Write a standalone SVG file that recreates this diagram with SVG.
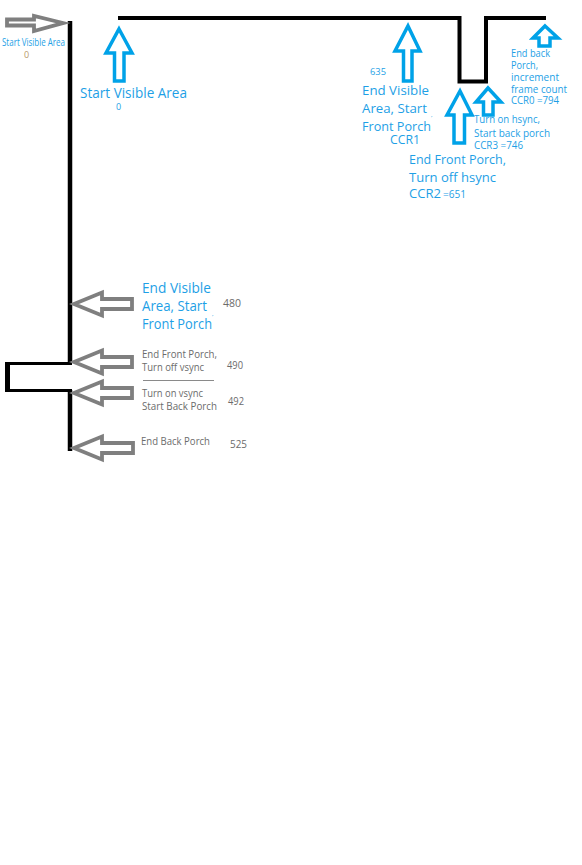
<svg xmlns="http://www.w3.org/2000/svg" width="582" height="865" viewBox="0 0 582 865">
<style>
.bg{fill:#fff}
.ln{stroke:#000;fill:none;stroke-linecap:butt}
.ga{fill:none;stroke:#7f7f7f;stroke-width:3.8;stroke-linejoin:miter}
.ba{fill:none;stroke:#00a2e8;stroke-width:3.5;stroke-linejoin:miter}
.bt{fill:#1e9fe6;font-family:"Open Sans","Liberation Sans",sans-serif}
.gt{fill:#6b6b6b;font-family:"Open Sans","Liberation Sans",sans-serif}
.ot{fill:#b8996b;font-family:"Open Sans","Liberation Sans",sans-serif}
</style>
<rect class="bg" x="0" y="0" width="582" height="865"/>
<g id="connectors">
  <path class="ln" stroke-width="4.5" d="M70,21 V363"/>
  <path class="ln" stroke-width="4.5" d="M70,390 V451"/>
  <path class="ln" stroke-width="3" d="M72,363.5 H7.5 M72,390.5 H7.5"/>
  <path class="ln" stroke-width="5" d="M7.5,362 V392"/>
  <path class="ln" stroke-width="4" d="M118,18 H459.5 V81.5 H486 V18 H546"/>
</g>
<g id="node-start-left">
  <polygon class="ga" points="7,19.5 34,19.5 34,16 63,23 34,31 34,25.5 7,25.5"/>
  <text class="bt" x="2" y="46" font-size="11" textLength="63" lengthAdjust="spacingAndGlyphs">Start Visible Area</text>
  <text class="ot" x="24" y="58" font-size="9">0</text>
</g>
<g id="node-start-top">
  <polygon class="ba" points="119,29 132,53 124,53 124,81 114.5,81 114.5,53 106,53"/>
  <text class="bt" x="80" y="98" font-size="14" textLength="107" lengthAdjust="spacingAndGlyphs">Start Visible Area</text>
  <text class="bt" x="116" y="110" font-size="9">0</text>
</g>
<g id="node-ccr1">
  <polygon class="ba" points="408,26 420,51 412,51 412,81 403.5,81 403.5,51 395,51"/>
  <text class="bt" x="370" y="75" font-size="9" textLength="16" lengthAdjust="spacingAndGlyphs">635</text>
  <text class="bt" x="362" y="95" font-size="13.5" textLength="67" lengthAdjust="spacingAndGlyphs">End Visible</text>
  <text class="bt" x="362" y="113" font-size="13.5" textLength="65" lengthAdjust="spacingAndGlyphs">Area, Start</text>
  <text class="bt" x="431" y="117" font-size="6">,</text>
  <text class="bt" x="362" y="131" font-size="13.5" textLength="69" lengthAdjust="spacingAndGlyphs">Front Porch</text>
  <text class="bt" x="390" y="144" font-size="13.5" textLength="30" lengthAdjust="spacingAndGlyphs">CCR1</text>
</g>
<g id="node-ccr2">
  <polygon class="ba" points="460,91 472,115 464.5,115 464.5,143 454,143 454,115 447,115"/>
  <text class="bt" x="409" y="164" font-size="13.5" textLength="97" lengthAdjust="spacingAndGlyphs">End Front Porch,</text>
  <text class="bt" x="409" y="182" font-size="13.5" textLength="87" lengthAdjust="spacingAndGlyphs">Turn off hsync</text>
  <text class="bt" x="409" y="198" font-size="13.5" textLength="32" lengthAdjust="spacingAndGlyphs">CCR2</text>
  <text class="bt" x="443" y="198" font-size="10" textLength="23" lengthAdjust="spacingAndGlyphs">=651</text>
</g>
<g id="node-ccr3">
  <polygon class="ba" points="488,88 501,102 493,102 493,115 483.5,115 483.5,102 476,102"/>
  <text class="bt" x="474" y="123" font-size="10" textLength="66" lengthAdjust="spacingAndGlyphs">Turn on hsync,</text>
  <text class="bt" x="474" y="137" font-size="10" textLength="76" lengthAdjust="spacingAndGlyphs">Start back porch</text>
  <text class="bt" x="474" y="149" font-size="10" textLength="49" lengthAdjust="spacingAndGlyphs">CCR3 =746</text>
</g>
<g id="node-ccr0">
  <polygon class="ba" points="545,26 558,38 550,38 550,46 539,46 539,38 533,38"/>
  <text class="bt" x="511" y="57" font-size="10" textLength="39" lengthAdjust="spacingAndGlyphs">End back</text>
  <text class="bt" x="511" y="69" font-size="10" textLength="27" lengthAdjust="spacingAndGlyphs">Porch,</text>
  <text class="bt" x="511" y="81" font-size="10" textLength="48" lengthAdjust="spacingAndGlyphs">increment</text>
  <text class="bt" x="511" y="93" font-size="10" textLength="56" lengthAdjust="spacingAndGlyphs">frame count</text>
  <text class="bt" x="511" y="104" font-size="10" textLength="48" lengthAdjust="spacingAndGlyphs">CCR0 =794</text>
</g>
<g id="node-480">
  <polygon class="ga" points="74,304 102,292.5 102,299 132,299 132,309 102,309 102,315.5"/>
  <text class="bt" x="142" y="293" font-size="14" textLength="69" lengthAdjust="spacingAndGlyphs">End Visible</text>
  <text class="bt" x="142" y="311" font-size="14" textLength="65" lengthAdjust="spacingAndGlyphs">Area, Start</text>
  <text class="bt" x="212" y="316" font-size="6">,</text>
  <text class="bt" x="142" y="329" font-size="14" textLength="70" lengthAdjust="spacingAndGlyphs">Front Porch</text>
  <text class="gt" x="223" y="307" font-size="10" textLength="18" lengthAdjust="spacingAndGlyphs">480</text>
</g>
<g id="node-490">
  <polygon class="ga" points="74,362 102,350.5 102,357 132,357 132,367 102,367 102,373.5"/>
  <text class="gt" x="142" y="358" font-size="10.5" textLength="75" lengthAdjust="spacingAndGlyphs">End Front Porch,</text>
  <text class="gt" x="142" y="371" font-size="10.5" textLength="62" lengthAdjust="spacingAndGlyphs">Turn off vsync</text>
  <text class="gt" x="227" y="369" font-size="10" textLength="16" lengthAdjust="spacingAndGlyphs">490</text>
  <line x1="143" y1="380.5" x2="214" y2="380.5" stroke="#8a8a8a" stroke-width="1"/>
</g>
<g id="node-492">
  <polygon class="ga" points="74,393 102,381.5 102,388 132,388 132,398 102,398 102,404.5"/>
  <text class="gt" x="142" y="397" font-size="10.5" textLength="61" lengthAdjust="spacingAndGlyphs">Turn on vsync</text>
  <text class="gt" x="142" y="410" font-size="10.5" textLength="75" lengthAdjust="spacingAndGlyphs">Start Back Porch</text>
  <text class="gt" x="228" y="405" font-size="10" textLength="16" lengthAdjust="spacingAndGlyphs">492</text>
</g>
<g id="node-525">
  <polygon class="ga" points="74,448 102,436.5 102,443 133,443 133,453 102,453 102,459.5"/>
  <text class="gt" x="141" y="445" font-size="10.5" textLength="69" lengthAdjust="spacingAndGlyphs">End Back Porch</text>
  <text class="gt" x="230" y="448" font-size="10" textLength="17" lengthAdjust="spacingAndGlyphs">525</text>
</g>
</svg>
